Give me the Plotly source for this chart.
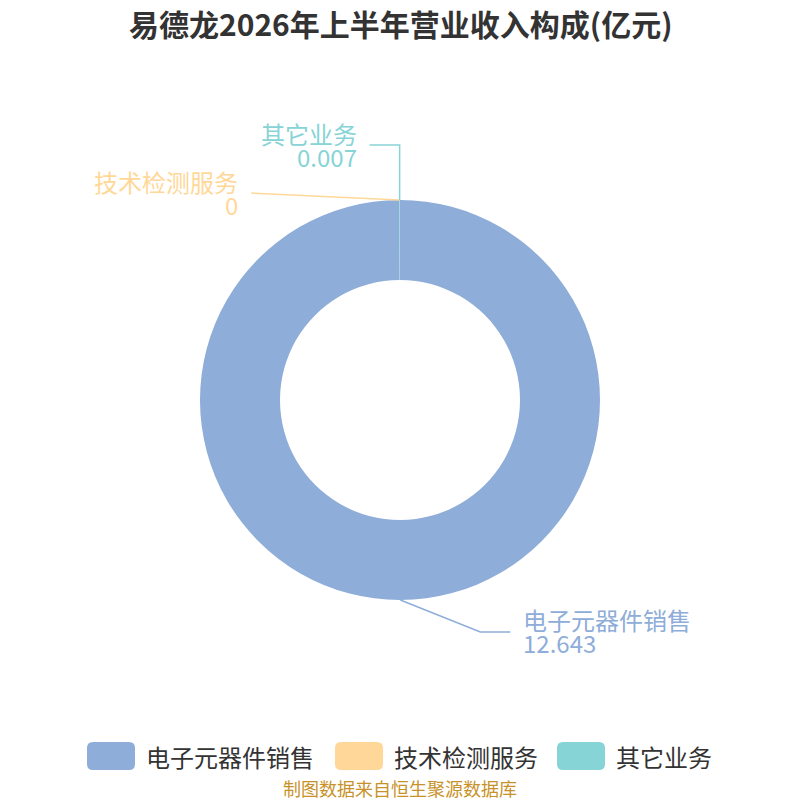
import math
import plotly.graph_objects as go

# ---- data ----
categories = ["电子元器件销售", "技术检测服务", "其它业务"]
values = [12.643, 0, 0.007]
value_labels = ["12.643", "0", "0.007"]
colors = ["#8EADD9", "#FFD899", "#86D4D6"]
title_text = "易德龙2026年上半年营业收入构成(亿元)"
source_text = "制图数据来自恒生聚源数据库"

W = H = 800
CX, CY, R = 400, 400, 200  # pixel geometry of the donut
FONT = "Noto Sans CJK SC"


def px(x):
    return x / W


def py(y):
    return 1 - y / H


fig = go.Figure()
fig.add_trace(go.Pie(
    labels=categories, values=values, sort=False, direction="clockwise",
    rotation=0, hole=0.6, textinfo="none", hoverinfo="label+value",
    marker=dict(colors=colors, line=dict(color="white", width=0)),
    domain=dict(x=[px(CX - R), px(CX + R)], y=[py(CY + R), py(CY - R)]),
    showlegend=False,
))

# label layout: (elbow dx, elbow dy, horizontal length, text side)
label_layout = [
    dict(ex=80, ey=32, hx=30, side="right"),
    dict(ex=-148, ey=-7, hx=0, side="left"),
    dict(ex=0, ey=-55, hx=-30, side="left"),
]

shapes = []
annotations = []
total = sum(values)
cum = 0.0
for i, (name, v) in enumerate(zip(categories, values)):
    mid = (cum + v / 2) / total * 2 * math.pi
    cum += v
    ax = CX + R * math.sin(mid)
    ay = CY - R * math.cos(mid)
    lay = label_layout[i]
    ex, ey = ax + lay["ex"], ay + lay["ey"]
    hx = ex + lay["hx"]
    path = f"M {px(ax)} {py(ay)} L {px(ex)} {py(ey)} L {px(hx)} {py(ey)}"
    shapes.append(dict(type="path", xref="paper", yref="paper", path=path,
                       line=dict(color=colors[i], width=1.5)))
    if lay["side"] == "right":
        tx, xanchor = hx + 11, "left"
    else:
        tx, xanchor = hx - 11, "right"
    annotations.append(dict(
        x=px(tx), y=py(ey - 12), xref="paper", yref="paper",
        text=name, showarrow=False, xanchor=xanchor, yanchor="middle",
        font=dict(size=24, color=colors[i], family=FONT),
    ))
    annotations.append(dict(
        x=px(tx), y=py(ey + 11), xref="paper", yref="paper",
        text=value_labels[i], showarrow=False, xanchor=xanchor, yanchor="middle",
        font=dict(size=24, color=colors[i], family=FONT),
    ))

# title
annotations.append(dict(
    x=0.5, y=py(23), xref="paper", yref="paper", text=f"<b>{title_text}</b>",
    showarrow=False, xanchor="center", yanchor="middle",
    font=dict(size=30, color="#333333", family=FONT),
))

# manual legend
legend_x = [87, 335, 557]
LY, SW, SH, RAD = 756, 48, 28, 6
for i, name in enumerate(categories):
    x0, x1 = legend_x[i], legend_x[i] + SW
    y0, y1 = LY - SH / 2, LY + SH / 2
    path = (f"M {px(x0 + RAD)} {py(y0)} L {px(x1 - RAD)} {py(y0)} "
            f"Q {px(x1)} {py(y0)} {px(x1)} {py(y0 + RAD)} "
            f"L {px(x1)} {py(y1 - RAD)} Q {px(x1)} {py(y1)} {px(x1 - RAD)} {py(y1)} "
            f"L {px(x0 + RAD)} {py(y1)} Q {px(x0)} {py(y1)} {px(x0)} {py(y1 - RAD)} "
            f"L {px(x0)} {py(y0 + RAD)} Q {px(x0)} {py(y0)} {px(x0 + RAD)} {py(y0)} Z")
    shapes.append(dict(type="path", xref="paper", yref="paper", path=path,
                       fillcolor=colors[i], line=dict(width=0)))
    annotations.append(dict(
        x=px(x1 + 9), y=py(LY), xref="paper", yref="paper", text=name,
        showarrow=False, xanchor="left", yanchor="middle",
        font=dict(size=24, color="#333333", family=FONT),
    ))

# source
annotations.append(dict(
    x=0.5, y=py(788), xref="paper", yref="paper", text=source_text,
    showarrow=False, xanchor="center", yanchor="middle",
    font=dict(size=18, color="#C8922A", family=FONT),
))

fig.update_layout(
    width=W, height=H, margin=dict(l=0, r=0, t=0, b=0),
    paper_bgcolor="white", plot_bgcolor="white",
    shapes=shapes, annotations=annotations, showlegend=False,
)

fig.write_html(
    "out.html",
    config={"displayModeBar": False},
    post_script="document.body.style.margin='0';document.body.style.overflow='hidden';",
)
